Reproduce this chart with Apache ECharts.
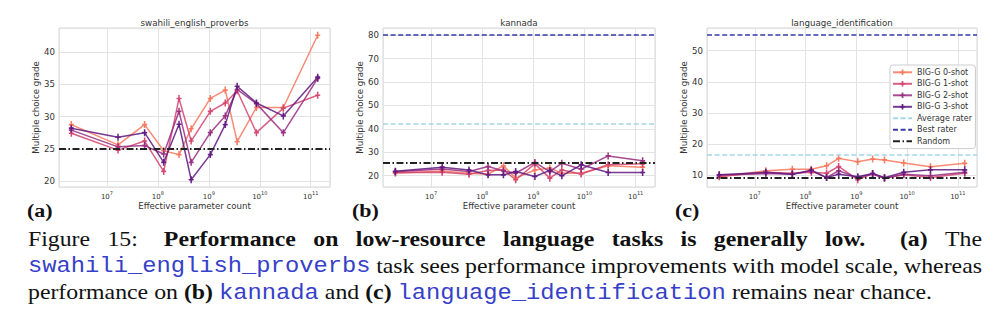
<!DOCTYPE html>
<html>
<head>
<meta charset="utf-8">
<script src="https://cdn.jsdelivr.net/npm/echarts@6/dist/echarts.min.js"></script>
<style>
  html, body { margin: 0; padding: 0; background: #ffffff; }
  #chart { width: 1000px; height: 323px; }
</style>
</head>
<body>
<div id="chart"></div>
<script>
// Effective parameter counts of the BIG-G models (shared x values)
const paramCounts = [2.0e6, 1.65e7, 5.5e7, 1.3e8, 2.6e8, 4.5e8, 1.07e9, 2.1e9, 3.6e9, 8.6e9, 2.9e10, 1.37e11];

const shotNames = ['BIG-G 0-shot', 'BIG-G 1-shot', 'BIG-G 2-shot', 'BIG-G 3-shot'];
const panelTitles = ['swahili_english_proverbs', 'kannada', 'language_identification'];

// swahili_english_proverbs
const swahiliShot0 = [28.75, 25.6, 28.75, 24.7, 24.1, 28.1, 32.8, 34.1, 26.1, 31.4, 31.4, 42.6];
const swahiliShot1 = [27.4, 24.8, 26.2, 21.5, 32.8, 26.2, 30.8, 32.1, 34.0, 27.5, 31.3, 33.3];
const swahiliShot2 = [27.9, 25.3, 25.5, 24.2, 30.8, 22.9, 27.5, 30.1, 34.2, 32.0, 27.5, 35.9];
const swahiliShot3 = [28.2, 26.8, 27.5, 22.9, 28.8, 20.2, 24.1, 28.75, 34.7, 32.1, 30.1, 36.1];

// kannada
const kannadaShot0 = [21.0, 22.0, 21.0, 20.6, 24.2, 18.9, 22.4, 23.2, 21.0, 21.0, 24.2, 23.6];
const kannadaShot1 = [21.3, 21.4, 20.6, 22.2, 22.4, 18.2, 25.0, 18.9, 22.4, 20.7, 24.6, 25.0];
const kannadaShot2 = [21.6, 22.8, 21.7, 23.9, 22.0, 21.0, 25.6, 21.7, 25.3, 22.7, 28.4, 26.3];
const kannadaShot3 = [21.8, 23.6, 22.4, 20.3, 20.3, 21.7, 19.6, 22.2, 19.9, 24.6, 21.3, 21.3];

// language_identification
const langIdShot0 = [9.3, 11.3, 11.8, 11.8, 12.9, 15.3, 14.2, 15.1, 14.8, 13.8, 12.6, 13.7];
const langIdShot1 = [9.5, 10.8, 10.5, 10.8, 10.5, 12.7, 8.4, 10.4, 8.9, 10.0, 9.1, 10.5];
const langIdShot2 = [9.9, 10.4, 10.2, 11.3, 9.1, 11.3, 9.1, 10.2, 8.9, 10.2, 9.7, 10.8];
const langIdShot3 = [10.0, 10.8, 10.2, 11.5, 9.1, 10.2, 9.4, 10.4, 9.1, 10.8, 11.6, 11.6];

// Reference grades per panel (null = not drawn)
const randomGrade = [25, 25.5, 9.09];
const averageRaterGrade = [null, 42.1, 16.4];
const bestRaterGrade = [null, 80, 55];

const panelShots = [
  [swahiliShot0, swahiliShot1, swahiliShot2, swahiliShot3],
  [kannadaShot0, kannadaShot1, kannadaShot2, kannadaShot3],
  [langIdShot0, langIdShot1, langIdShot2, langIdShot3]
];

// ---- layout and styling ----
const plotFont = 'DejaVu Sans';
const textGray = '#333333';
const gridLeft = [59, 383, 707];
const gridWidth = [271, 272, 270];
const gridTop = 28, gridHeight = 159;
const yStep = [5, 10, 10];
const shotColors = ['#f8765c', '#d3436e', '#982d80', '#5f187f'];
const plusSymbol = 'path://M-0.8,-3.5H0.8V-0.8H2.6V0.8H0.8V3.5H-0.8V0.8H-2.6V-0.8H-0.8Z';

const refStyles = {
  'Average rater': { color: '#a6d5e8', width: 1.5, type: [5, 2.6] },
  'Best rater': { color: '#3a3aa6', width: 1.5, type: [5, 2.6] },
  'Random': { color: '#222222', width: 2, type: [7, 2.5, 1.5, 2.5] }
};

// matplotlib-style 5% margins around the plotted values
function paddedRange(values) {
  const lo = Math.min(...values), hi = Math.max(...values);
  const pad = (hi - lo) * 0.05;
  return [lo - pad, hi + pad];
}

const logX = paramCounts.map(v => Math.log10(v));
const logRange = paddedRange(logX);
const xMin = Math.pow(10, logRange[0]);
const xMax = Math.pow(10, logRange[1]);

const grids = [], xAxes = [], yAxes = [], series = [];

panelShots.forEach((shots, i) => {
  const refs = [randomGrade[i], averageRaterGrade[i], bestRaterGrade[i]].filter(v => v !== null);
  const yr = paddedRange(shots.flat().concat(refs));
  const step = yStep[i];

  grids.push({
    left: gridLeft[i], top: gridTop, width: gridWidth[i], height: gridHeight,
    show: true, borderColor: '#d6d6d6', borderWidth: 1, backgroundColor: '#ffffff'
  });

  xAxes.push({
    gridIndex: i, type: 'log', logBase: 10, min: xMin, max: xMax,
    axisLine: { show: false }, axisTick: { show: false },
    splitLine: { show: true, lineStyle: { color: '#e3e3e3', width: 1 } },
    axisLabel: {
      margin: 3,
      formatter: v => {
        const e = Math.log10(v), r = Math.round(e);
        return Math.abs(e - r) < 1e-6 ? '{b|10}{s|' + r + '}' : '';
      },
      rich: {
        b: { fontSize: 7, fontFamily: plotFont, color: textGray, lineHeight: 10, verticalAlign: 'bottom' },
        s: { fontSize: 5, fontFamily: plotFont, color: textGray, lineHeight: 10, verticalAlign: 'top' }
      }
    },
    name: 'Effective parameter count', nameLocation: 'middle', nameGap: 14,
    nameTextStyle: { fontSize: 8.6, fontFamily: plotFont, color: textGray }
  });

  yAxes.push({
    gridIndex: i, type: 'value', min: yr[0], max: yr[1], splitNumber: 5,
    axisLine: { show: false }, axisTick: { show: false },
    splitLine: { show: true, lineStyle: { color: '#e3e3e3', width: 1 } },
    axisLabel: {
      margin: 4, fontSize: 8.6, fontFamily: plotFont, color: textGray,
      formatter: v => {
        const q = v / step;
        return Math.abs(q - Math.round(q)) < 1e-6 ? String(Math.round(v)) : '';
      }
    },
    name: 'Multiple choice grade', nameLocation: 'middle', nameRotate: 90, nameGap: 17,
    nameTextStyle: { fontSize: 8.6, fontFamily: plotFont, color: textGray }
  });

  // horizontal reference lines
  const refList = [['Average rater', averageRaterGrade[i]], ['Best rater', bestRaterGrade[i]], ['Random', randomGrade[i]]];
  refList.forEach(([name, val]) => {
    if (val === null) return;
    const st = refStyles[name];
    series.push({
      type: 'line', name: name, xAxisIndex: i, yAxisIndex: i, data: [],
      symbol: 'none', color: st.color,
      lineStyle: { color: st.color, width: st.width, type: st.type },
      itemStyle: { color: st.color },
      markLine: {
        silent: true, symbol: ['none', 'none'], label: { show: false },
        lineStyle: { color: st.color, width: st.width, type: st.type, opacity: 1 },
        emphasis: { disabled: true },
        data: [{ yAxis: val }]
      },
      z: 2, animation: false
    });
  });

  shots.forEach((vals, k) => {
    series.push({
      type: 'line', name: shotNames[k], xAxisIndex: i, yAxisIndex: i,
      data: paramCounts.map((x, j) => [x, vals[j]]),
      symbol: plusSymbol, symbolSize: [5, 7], showSymbol: true,
      color: shotColors[k],
      lineStyle: { color: shotColors[k], width: 1.5, opacity: 0.85 },
      itemStyle: { color: shotColors[k], opacity: 0.95 },
      emphasis: { disabled: true },
      z: 3, animation: false
    });
  });
});

// ---- titles, panel letters and caption ----
const graphics = [];
panelTitles.forEach((t, i) => {
  graphics.push({
    type: 'text', x: gridLeft[i] + gridWidth[i] / 2, y: 23,
    style: { text: t, fontSize: 8.7, fontFamily: plotFont, fill: textGray,
             align: 'center', verticalAlign: 'middle', textAlign: 'center', textVerticalAlign: 'middle' }
  });
});

const serif = 'Liberation Serif', mono = 'Liberation Mono';
const captionSize = 23.8;
const linkBlue = '#3640c8';

const panelLetters = [[27, '(a)'], [352, '(b)'], [675, '(c)']];
panelLetters.forEach(([x, t]) => {
  graphics.push({
    type: 'text', x: x, y: 210, scaleY: 0.9,
    style: { text: t, fontSize: 22, fontFamily: serif, fontWeight: 'bold', fill: '#111111',
             align: 'left', verticalAlign: 'middle', textAlign: 'left', textVerticalAlign: 'middle' }
  });
});

// caption words: [text, kind, weight of the gap that follows]
// kind: n = regular, b = bold, m = monospace task name
const captionLines = [
  { y: 239, justify: true, words: [['Figure', 'n', 1], ['15:', 'n', 1.5], ['Performance', 'b', 1], ['on', 'b', 1],
      ['low-resource', 'b', 1], ['language', 'b', 1], ['tasks', 'b', 1], ['is', 'b', 1],
      ['generally', 'b', 1], ['low.', 'b', 2], ['(a)', 'b', 1], ['The', 'n', 0]] },
  { y: 265.5, justify: true, words: [['swahili_english_proverbs', 'm', 1], ['task', 'n', 1], ['sees', 'n', 1],
      ['performance', 'n', 1], ['improvements', 'n', 1], ['with', 'n', 1], ['model', 'n', 1],
      ['scale,', 'n', 1], ['whereas', 'n', 0]] },
  { y: 292, justify: false, words: [['performance', 'n', 1], ['on', 'n', 1], ['(b)', 'b', 1], ['kannada', 'm', 1],
      ['and', 'n', 1], ['(c)', 'b', 1], ['language_identification', 'm', 1], ['remains', 'n', 1],
      ['near', 'n', 1], ['chance.', 'n', 0]] }
];
const captionLeft = 28, captionRight = 982;

const measureCtx = document.createElement('canvas').getContext('2d');
function cssFont(kind) {
  return (kind === 'b' ? 'bold ' : '') + captionSize + 'px "' + (kind === 'm' ? mono : serif) + '"';
}
function wordWidth(text, kind) {
  measureCtx.font = cssFont(kind);
  return measureCtx.measureText(text).width;
}
measureCtx.font = cssFont('n');
const spaceWidth = measureCtx.measureText(' ').width;

captionLines.forEach(line => {
  const widths = line.words.map(([t, kind]) => wordWidth(t, kind));
  const total = widths.reduce((a, b) => a + b, 0);
  const weights = line.words.slice(0, -1).map(w => w[2]);
  const weightSum = weights.reduce((a, b) => a + b, 0);
  const unit = line.justify ? (captionRight - captionLeft - total) / weightSum : spaceWidth;
  let x = captionLeft;
  line.words.forEach(([t, kind, gw], idx) => {
    graphics.push({
      type: 'text', x: x, y: line.y + (kind === 'm' ? 1 : 0), scaleY: 0.9,
      style: {
        text: t,
        fontSize: captionSize,
        fontFamily: kind === 'm' ? mono : serif,
        fontWeight: kind === 'b' ? 'bold' : 'normal',
        fill: kind === 'm' ? linkBlue : '#111111',
        align: 'left', verticalAlign: 'middle', textAlign: 'left', textVerticalAlign: 'middle'
      }
    });
    x += widths[idx] + unit * gw;
  });
});

const legendNames = shotNames.concat(['Average rater', 'Best rater', 'Random']);

const chart = echarts.init(document.getElementById('chart'), null, { renderer: 'svg', width: 1000, height: 323 });
chart.setOption({
  animation: false,
  backgroundColor: '#ffffff',
  grid: grids,
  xAxis: xAxes,
  yAxis: yAxes,
  series: series,
  legend: {
    data: legendNames.map((n, idx) => idx < 4 ? { name: n } : { name: n, itemStyle: { opacity: 0 } }),
    orient: 'vertical', left: 890, top: 65,
    padding: [3.3, 3.5, 3.3, 2],
    itemWidth: 19, itemHeight: 7, itemGap: 3.5,
    selectedMode: false,
    backgroundColor: 'rgba(255,255,255,0.85)', borderColor: '#cccccc', borderWidth: 1, borderRadius: 3,
    textStyle: { fontSize: 8, fontFamily: plotFont, color: textGray, lineHeight: 8 }
  },
  graphic: graphics
});
</script>
</body>
</html>
